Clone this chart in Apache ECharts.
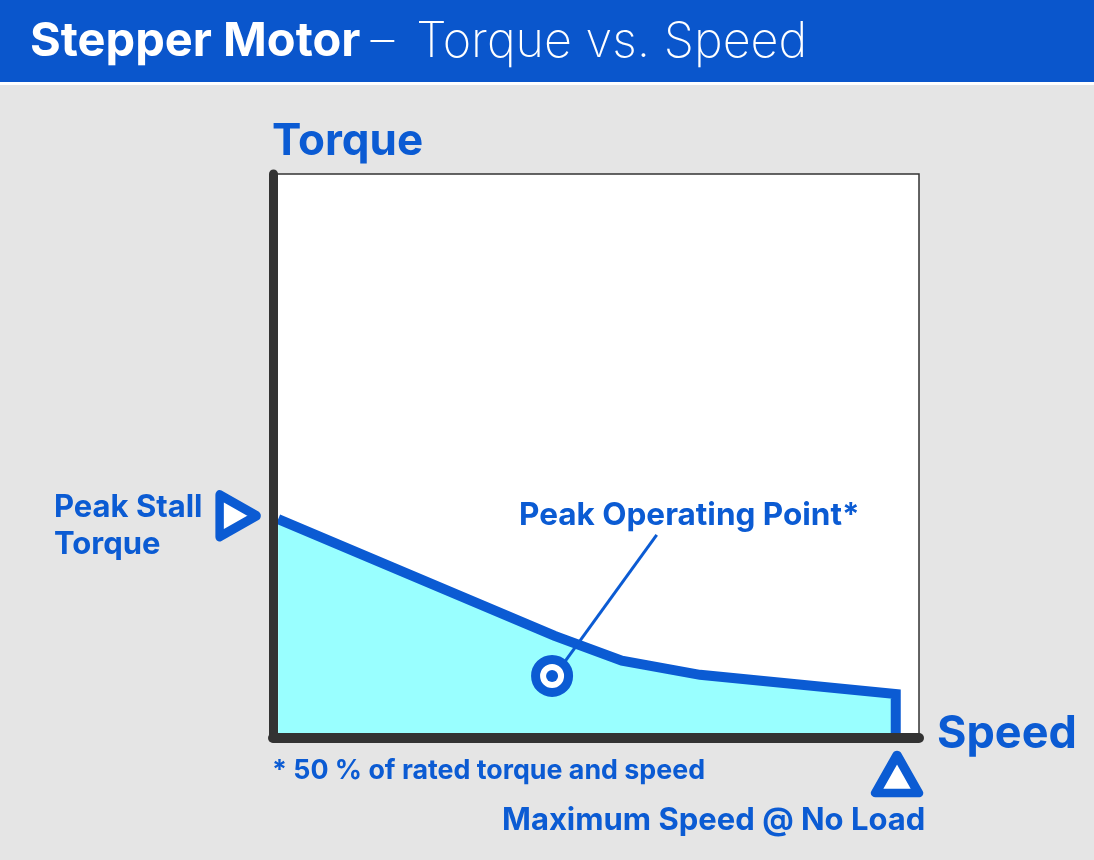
<!DOCTYPE html>
<html>
<head>
<meta charset="utf-8">
<script src="https://cdn.jsdelivr.net/npm/echarts@6/dist/echarts.min.js"></script>
<style>
html,body{margin:0;padding:0;background:#e5e5e5;}
#chart{width:1094px;height:860px;}
</style>
</head>
<body>
<div id="chart"></div>
<script>
// ---- data (speed and torque in % of axis range) ----
var speed  = [0.8, 43.6, 54.0, 66.1, 96.4, 96.4];
var torque = [38.8, 18.1, 13.7, 11.2, 7.8, 0];
var peakPoint = [[43.2, 11.0]];
var leader = [[44.9, 13.1], [59.4, 36.0]];
var stallMarker = [[-5.4, 39.4]];
var maxSpeedMarker = [[96.6, -6.4]];
var titleBold = 'Stepper Motor';
var titleDash = '\u2013';
var titleLight = 'Torque vs. Speed';
var yName = 'Torque';
var xName = 'Speed';
var stallLabel = ['Peak Stall', 'Torque'];
var peakLabel = 'Peak Operating Point*';
var footnote = '* 50 % of rated torque and speed';
var maxLabel = 'Maximum Speed @ No Load';

var BLUE = '#0b5bd3';
var FONT = 'Inter';
var curve = speed.map(function (s, i) { return [s, torque[i]]; });

var chart = echarts.init(document.getElementById('chart'));
chart.setOption({
  backgroundColor: '#e5e5e5',
  animation: false,
  grid: {
    left: 273, right: 175, top: 174, bottom: 122,
    show: true, backgroundColor: '#ffffff', borderColor: '#333333', borderWidth: 1.5
  },
  xAxis: {
    type: 'value', min: 0, max: 100, z: 10,
    axisLine: {show: true, lineStyle: {color: '#333333', width: 10}},
    axisTick: {show: false}, axisLabel: {show: false}, splitLine: {show: false}
  },
  yAxis: {
    type: 'value', min: 0, max: 100, z: 10,
    axisLine: {show: true, lineStyle: {color: '#333333', width: 9}},
    axisTick: {show: false}, axisLabel: {show: false}, splitLine: {show: false}
  },
  series: [
    {
      type: 'line', data: curve, symbol: 'none', z: 2,
      lineStyle: {color: BLUE, width: 10, join: 'miter', cap: 'butt'},
      areaStyle: {color: '#99ffff', opacity: 1}
    },
    {
      type: 'line', data: leader, symbol: 'none', z: 3,
      lineStyle: {color: BLUE, width: 3}
    },
    {
      type: 'scatter', data: peakPoint, symbol: 'circle', symbolSize: 33, z: 4,
      itemStyle: {color: '#ffffff', borderColor: BLUE, borderWidth: 9, opacity: 1}
    },
    {
      type: 'scatter', data: peakPoint, symbol: 'circle', symbolSize: 12, z: 5,
      itemStyle: {color: BLUE, opacity: 1}
    },
    {
      type: 'scatter', data: stallMarker, symbol: 'triangle', symbolSize: [42, 37],
      symbolRotate: -90, clip: false, z: 5,
      itemStyle: {color: '#ffffff', borderColor: BLUE, borderWidth: 9, borderJoin: 'round', opacity: 1}
    },
    {
      type: 'scatter', data: maxSpeedMarker, symbol: 'triangle', symbolSize: [43, 38],
      clip: false, z: 5,
      itemStyle: {color: '#ffffff', borderColor: BLUE, borderWidth: 9, borderJoin: 'round', opacity: 1}
    }
  ],
  graphic: [
    {type: 'rect', shape: {x: 0, y: 0, width: 1094, height: 82}, style: {fill: '#0a56cc'}, z: 0},
    {type: 'rect', shape: {x: 0, y: 82, width: 1094, height: 3}, style: {fill: '#ffffff'}, z: 0},
    {type: 'text', x: 30, y: 42, z: 1, style: {
      text: '{b|' + titleBold + '}{d|' + titleDash + '}{l|' + titleLight + '}',
      verticalAlign: 'middle',
      rich: {
        b: {fill: '#ffffff', fontFamily: FONT, fontWeight: 700, fontSize: 47},
        d: {fill: '#ffffff', fontFamily: FONT, fontWeight: 200, fontSize: 47.5, padding: [0, 0, 0, 10]},
        l: {fill: '#ffffff', fontFamily: FONT, fontWeight: 200, fontSize: 48.5, padding: [0, 0, 0, 22]}
      }
    }},
    {type: 'text', x: 272, y: 142, style: {text: yName, fill: BLUE, font: '700 44px ' + FONT, verticalAlign: 'middle'}},
    {type: 'text', x: 937, y: 734, style: {text: xName, fill: BLUE, font: '700 45px ' + FONT, verticalAlign: 'middle'}},
    {type: 'text', x: 54, y: 508, style: {text: stallLabel[0], fill: BLUE, font: '700 31px ' + FONT, verticalAlign: 'middle'}},
    {type: 'text', x: 54, y: 545, style: {text: stallLabel[1], fill: BLUE, font: '700 31px ' + FONT, verticalAlign: 'middle'}},
    {type: 'text', x: 519, y: 516, style: {text: peakLabel, fill: BLUE, font: '700 31.5px ' + FONT, verticalAlign: 'middle'}},
    {type: 'text', x: 272, y: 771, style: {text: footnote, fill: BLUE, font: '700 26.8px ' + FONT, verticalAlign: 'middle'}},
    {type: 'text', x: 502, y: 821, style: {text: maxLabel, fill: BLUE, font: '700 31px ' + FONT, verticalAlign: 'middle'}}
  ]
});
</script>
</body>
</html>
